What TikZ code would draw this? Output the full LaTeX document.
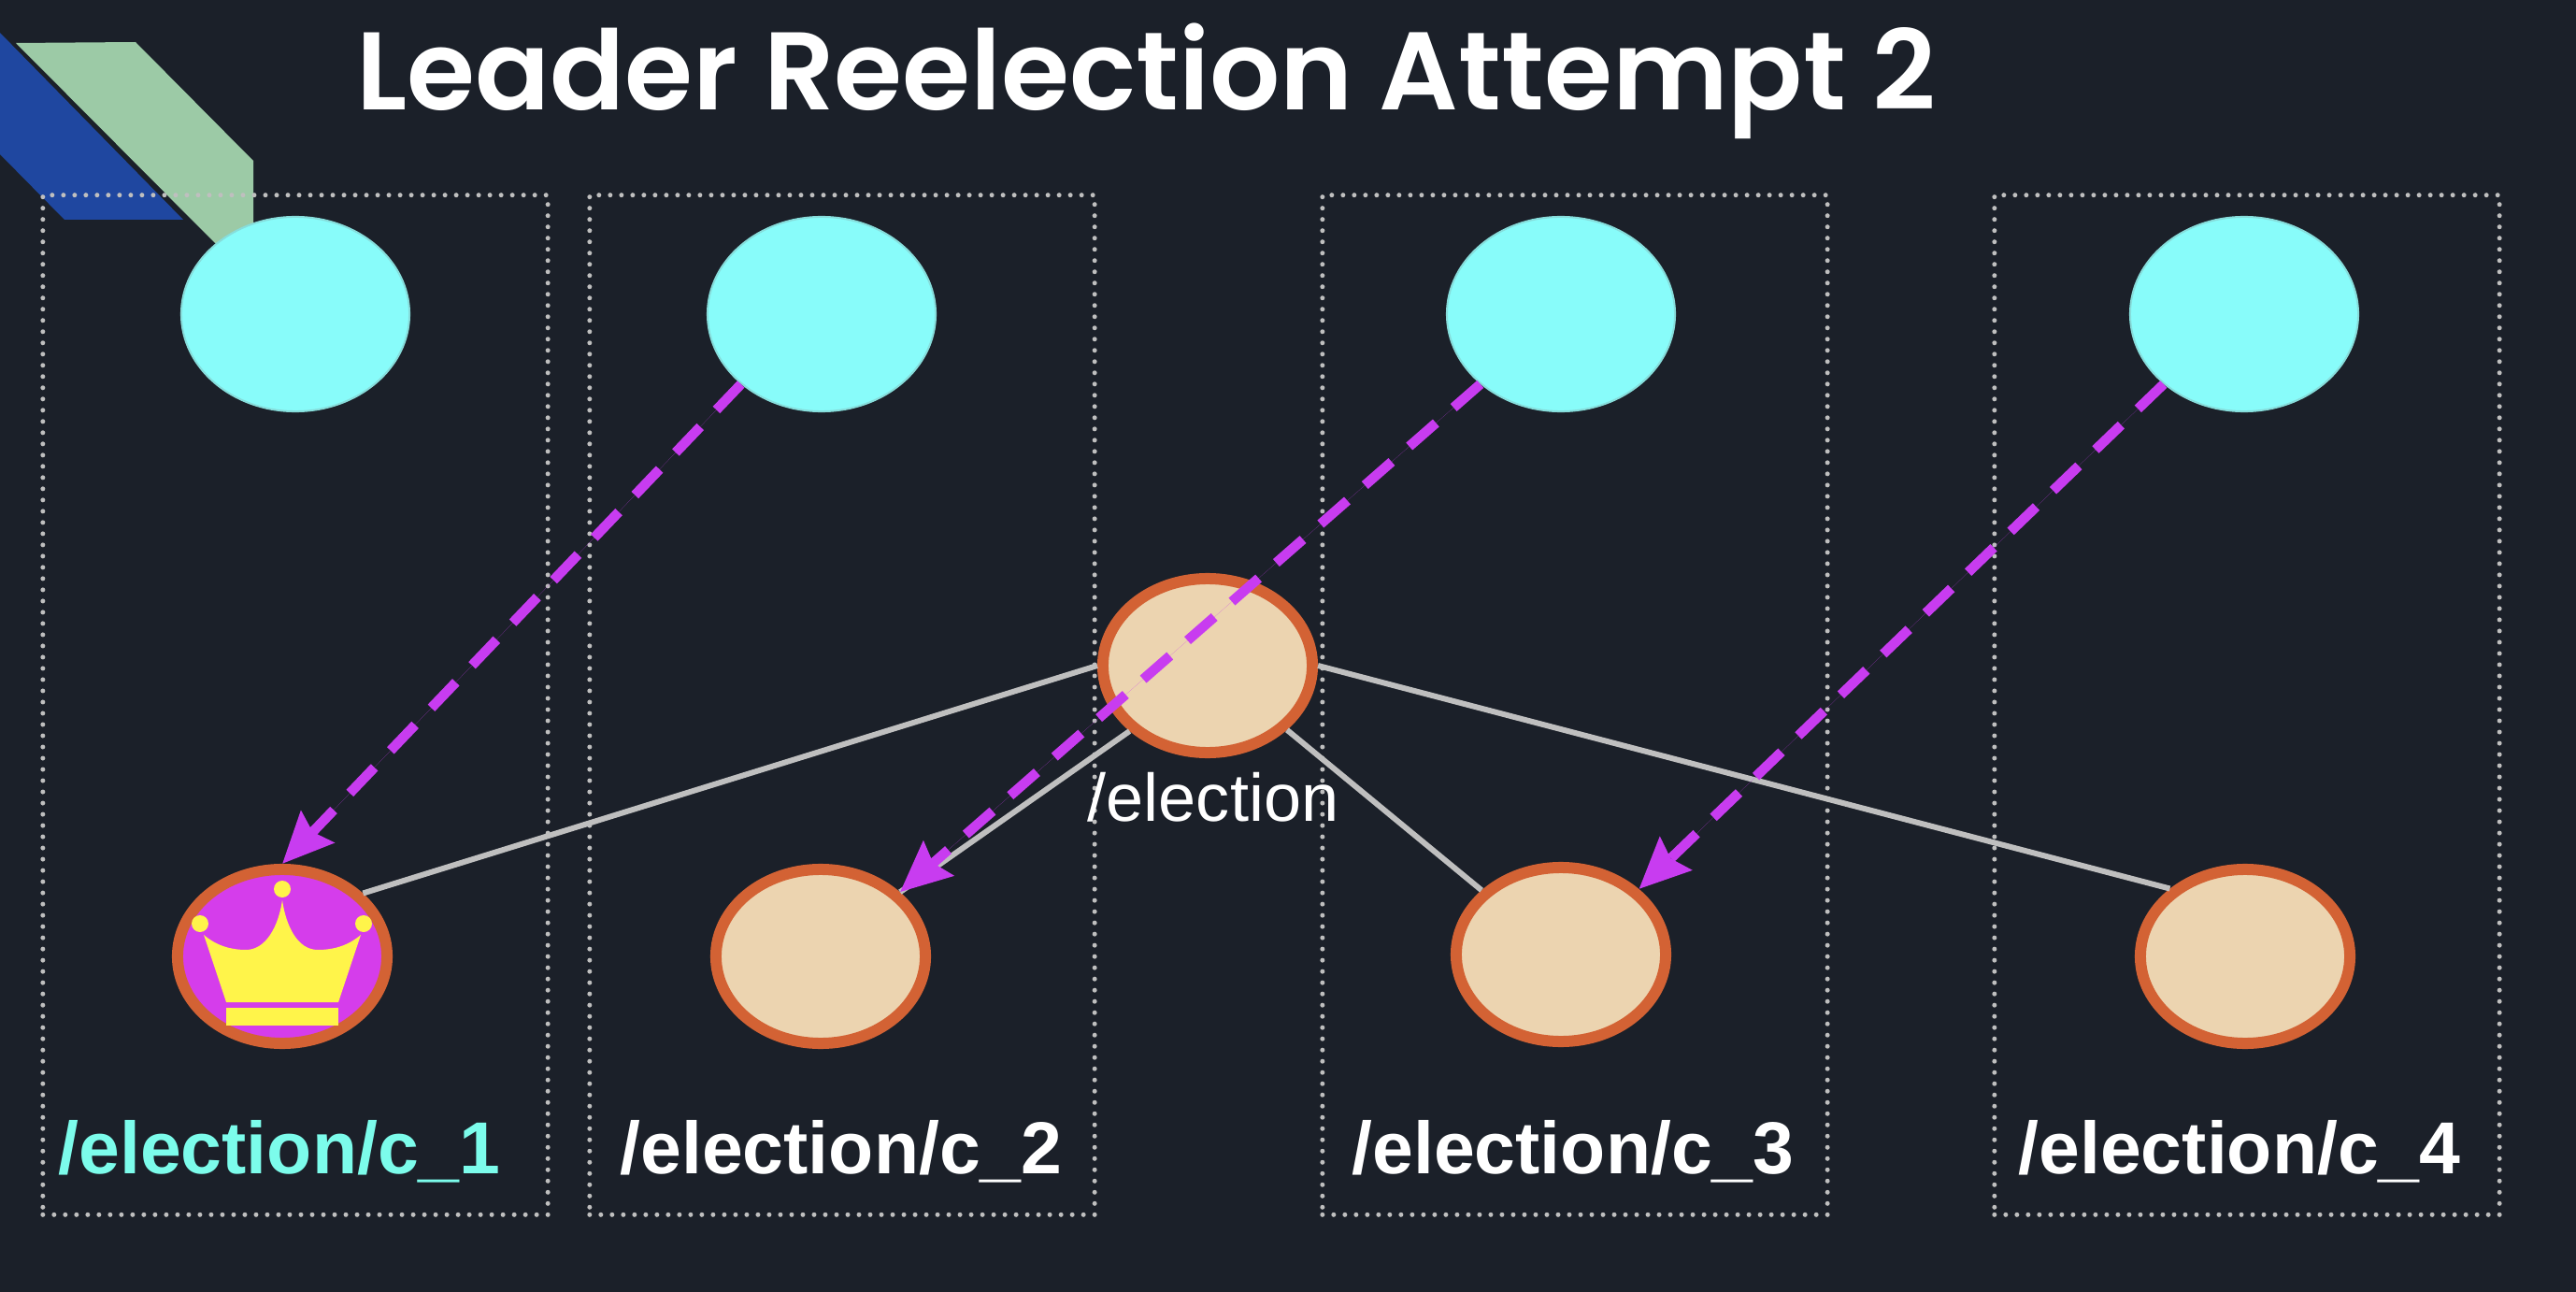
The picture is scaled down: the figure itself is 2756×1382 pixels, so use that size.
\documentclass[tikz,border=0pt]{standalone}
\usepackage{fontspec}
\setmainfont{Liberation Sans}
\newfontfamily\titlefont{Poppins SemiBold}
\usetikzlibrary{shapes.geometric, arrows.meta}
\definecolor{bgdark}{HTML}{1B2029}
\definecolor{ribbonblue}{HTML}{1F47A0}
\definecolor{ribbongreen}{HTML}{9CCAA6}
\definecolor{cyanfill}{HTML}{88FCFA}
\definecolor{peach}{HTML}{ECD4B0}
\definecolor{rust}{HTML}{D36234}
\definecolor{violet}{HTML}{C83CF0}
\definecolor{crownbg}{HTML}{D53DEB}
\definecolor{crowngold}{HTML}{FFF44A}
\definecolor{teal}{HTML}{7CFCEB}
\tikzstyle{procbox} = [rectangle, minimum width=5.4cm, minimum height=10.9cm, draw=white!75!black, line width=0.5mm, line cap=round, dash pattern=on 0mm off 1.2mm]
\tikzstyle{client} = [ellipse, minimum width=2.44cm, minimum height=2.08cm, fill=cyanfill, draw=cyanfill!75!gray, line width=0.2mm]
\tikzstyle{znode} = [ellipse, minimum width=2.24cm, minimum height=1.86cm, fill=peach, draw=rust, line width=1.2mm]
\tikzstyle{pathtag} = [anchor=base, font=\fontsize{22.4}{22.4}\selectfont\bfseries, text=white, inner sep=0pt]
\tikzstyle{link} = [draw=white!75!black, line width=0.6mm]
\tikzstyle{watch} = [-{Stealth[length=5.4mm,width=4.8mm,inset=0.7mm]}, draw=violet, fill=violet, line width=1.05mm, dash pattern=on 3.8mm off 2.5mm]

\begin{document}
\begin{tikzpicture}[x=0.01cm, y=-0.01cm]
    \fill [bgdark] (0,0) rectangle (2756,1382);

    % corner ribbon
    \fill [ribbonblue]  (0,35) -- (196,235) -- (69,235) -- (0,165) -- cycle;
    \fill [ribbongreen] (17,46) -- (145,45) -- (271,172) -- (271,237) -- (300,300) -- (230,260) -- cycle;

    \node (frameA) [procbox] at (316,754) {};
    \node (frameB) [procbox] at (901,754) {};
    \node (frameC) [procbox] at (1685,754) {};
    \node (frameD) [procbox] at (2404,754) {};

    \node (clientA) [client] at (316,336) {};
    \node (clientB) [client] at (879,336) {};
    \node (clientC) [client] at (1670,336) {};
    \node (clientD) [client] at (2401,336) {};

    \node (election) [znode] at (1292,712) {};
    \node (childA)   [znode, fill=crownbg] at (302,1023) {};
    \node (childB)   [znode] at (878,1023) {};
    \node (childC)   [znode] at (1670,1021) {};
    \node (childD)   [znode] at (2402,1023) {};

    % crown
    \fill [crowngold] (242,1072) -- (218,1000) .. controls (232,1012) and (248,1016) .. (263,1016)
      .. controls (285,1016) and (298,990) .. (302,963) .. controls (306,990) and (318,1016) .. (340,1016)
      .. controls (356,1016) and (372,1012) .. (386,1000) -- (362,1072) -- cycle;
    \fill [crowngold] (242,1078) rectangle (362,1097);
    \fill [crowngold] (214,988) circle (9);
    \fill [crowngold] (302,951) circle (9);
    \fill [crowngold] (389,988) circle (9);

    \draw [link] (election.180) -- (childA.38);
    \draw [link] (election.220) -- (childB.39);
    \draw [link] (election.-39) -- (childC.141);
    \draw [link] (election.0)   -- (childD.138);

    \draw [watch] (clientB.221) -- (childA.90);
    \draw [watch] (clientC.221) -- (childB.39);
    \draw [watch] (clientD.221) -- (childC.40);

    \node (title) [anchor=base, text=white, inner sep=0pt, font=\fontsize{33.6}{33.6}\titlefont] at (1226,118) {Leader Reelection Attempt 2};
    \node (zpath) [anchor=base, text=white, inner sep=0pt, font=\fontsize{20.5}{20.5}\selectfont] at (1298,878) {/election};
    \node (tagA) [pathtag, text=teal] at (299,1255) {/election/c\_1};
    \node (tagB) [pathtag] at (900,1255) {/election/c\_2};
    \node (tagC) [pathtag] at (1683,1255) {/election/c\_3};
    \node (tagD) [pathtag] at (2396,1255) {/election/c\_4};
\end{tikzpicture}
\end{document}
